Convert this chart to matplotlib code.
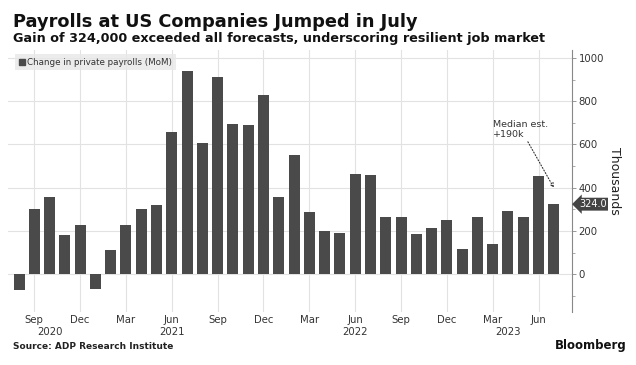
import pandas as pd
import matplotlib.pyplot as plt
from matplotlib.patches import Patch
from matplotlib.ticker import MultipleLocator

# data: monthly change in private payrolls (thousands), Aug 2020 - Jul 2023
months = pd.date_range("2020-08-01", "2023-07-01", freq="MS")
payrolls = [-71, 300, 357, 180, 227, -66, 114, 230, 301, 321,
            657, 938, 606, 912, 693, 690, 827, 357, 551, 286,
            200, 189, 465, 457, 267, 263, 185, 213, 252, 117,
            263, 141, 292, 267, 456, 324]
latest_label = "324.0"
median_est_text = "Median est.\n+190k"
median_arrow_to = 400
year_label_months = ["2020-10", "2021-06", "2022-06", "2023-04"]

bar_color = "#4a4a4a"
grid_color = "#e2e2e2"

fig = plt.figure(figsize=(6.36, 3.65), dpi=100)
ax = fig.add_axes([0.0126, 0.145, 0.887, 0.718])

x = list(range(len(months)))
ax.bar(x, payrolls, width=0.72, color=bar_color, zorder=2)

ax.set_xlim(-0.72, 36.2)
ax.set_ylim(-175, 1037)

# x ticks at quarter months
tick_idx = [i for i, m in enumerate(months) if m.month in (3, 6, 9, 12)]
ax.set_xticks(tick_idx)
ax.set_xticklabels([months[i].strftime("%b") for i in tick_idx],
                   fontsize=7.3, color="#333333")
ax.tick_params(axis="x", length=0, pad=2)

# year labels under month labels
for ym in year_label_months:
    d = pd.Timestamp(ym + "-01")
    i = list(months).index(d)
    ax.text(i, -0.058, str(d.year), transform=ax.get_xaxis_transform(),
            ha="center", va="top", fontsize=7.3, color="#333333")

# y axis on right
ax.yaxis.tick_right()
ax.yaxis.set_label_position("right")
ax.set_yticks([0, 200, 400, 600, 800, 1000])
ax.yaxis.set_minor_locator(MultipleLocator(100))
ax.tick_params(axis="y", which="major", length=3, width=0.6, color="#888888",
               labelsize=7.3, labelcolor="#333333", pad=1.5)
ax.tick_params(axis="y", which="minor", length=2, width=0.5, color="#888888")
ax.set_ylabel("Thousands", rotation=270, fontsize=9, color="#222222", labelpad=12)

for s in ["left", "top", "bottom"]:
    ax.spines[s].set_visible(False)
ax.spines["right"].set_color("#888888")
ax.spines["right"].set_linewidth(0.8)

ax.grid(True, axis="both", which="major", color=grid_color, lw=0.8, zorder=0)
ax.set_axisbelow(True)

# legend
leg = ax.legend(handles=[Patch(color=bar_color, label="Change in private payrolls (MoM)")],
                loc="upper left", bbox_to_anchor=(0.005, 1.0), fontsize=6.3,
                handlelength=0.7, handleheight=0.7, handletextpad=0.3,
                borderpad=0.4, frameon=True, fancybox=False)
leg.get_frame().set_facecolor("#e8e8e8")
leg.get_frame().set_edgecolor("none")
for t in leg.get_texts():
    t.set_color("#333333")

# annotation for median estimate
ax.annotate(median_est_text, xy=(x[-1], median_arrow_to), xytext=(31.0, 715),
            fontsize=6.8, color="#333333", ha="left", va="top",
            arrowprops=dict(arrowstyle="->", linestyle=":", color="#333333",
                            lw=0.8, shrinkA=0, shrinkB=0,
                            relpos=(0.6, 0.05)))

# latest value tag
ax.annotate(latest_label, xy=(1.0, payrolls[-1]), xycoords=("axes fraction", "data"),
            xytext=(1.012, payrolls[-1]), textcoords=("axes fraction", "data"),
            ha="left", va="center", fontsize=7, color="white",
            bbox=dict(boxstyle="larrow,pad=0.15", fc="#444444", ec="none"))

# title, subtitle, source
fig.text(0.021, 0.926, "Payrolls at US Companies Jumped in July",
         fontsize=12.8, fontweight="bold", color="#111111")
fig.text(0.021, 0.884, "Gain of 324,000 exceeded all forecasts, underscoring resilient job market",
         fontsize=9.15, fontweight="bold", color="#111111")
fig.text(0.021, 0.045, "Source: ADP Research Institute",
         fontsize=6.5, fontweight="bold", color="#222222")
fig.text(0.985, 0.045, "Bloomberg", fontsize=8.5, fontweight="bold",
         color="#111111", ha="right")

fig.savefig("out.png", dpi=100)
